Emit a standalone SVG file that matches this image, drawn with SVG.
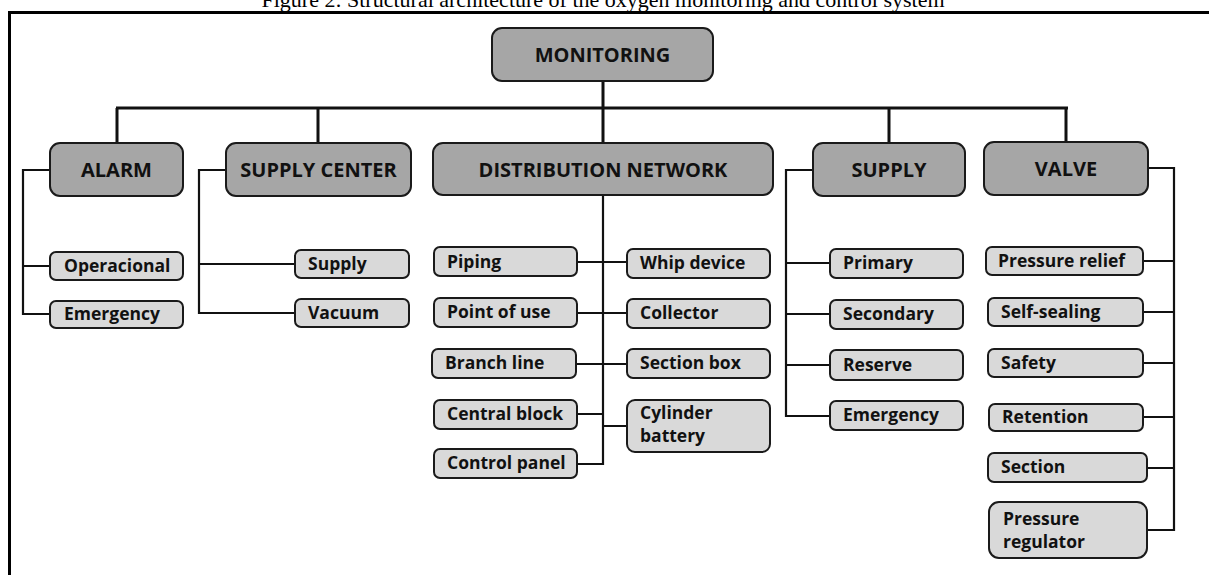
<svg xmlns="http://www.w3.org/2000/svg" width="1209" height="575" viewBox="0 0 1209 575">
<style>
.big{fill:#a6a6a6;stroke:#1a1a1a;stroke-width:2}
.sm{fill:#d9d9d9;stroke:#1a1a1a;stroke-width:2}
.bt{font-family:"Open Sans","Liberation Sans",sans-serif;font-weight:bold;font-size:20px;fill:#111;text-anchor:middle}
.st{font-family:"Open Sans","Liberation Sans",sans-serif;font-weight:bold;font-size:17.5px;fill:#111}
.c{fill:none;stroke:#111;stroke-width:2.2}
.cm{fill:none;stroke:#111;stroke-width:3}
.title{font-family:"Liberation Serif",serif;font-size:22px;fill:#000;text-anchor:middle}
</style>
<rect width="1209" height="575" fill="#fff"/>
<text class="title" x="603" y="7">Figure 2: Structural architecture of the oxygen monitoring and control system</text>
<path d="M9.5,575 V12.5 H1209" fill="none" stroke="#000" stroke-width="3"/>
<g id="connectors">
<path class="cm" d="M603,81 V108 M116,108 H1068 M117,108 V143 M318,108 V143 M603,108 V143 M889,108 V143 M1066,108 V142"/>
<path class="c" d="M50,170 H23 V314 H50 M23,266 H50"/>
<path class="c" d="M226,170 H199 V313 H295 M199,264 H295"/>
<path class="c" d="M603,195 V464 H577 M577,262 H627 M577,313 H627 M577,364 H627 M577,414 H603 M603,426 H627"/>
<path class="c" d="M813,170 H786 V416 H830 M786,263 H830 M786,314 H830 M786,365 H830"/>
<path class="c" d="M1148,168 H1174 V530 H1147 M1143,261 H1174 M1143,312 H1174 M1143,363 H1174 M1143,417 H1174 M1147,468 H1174"/>
</g>
<g id="monitoring"><rect class="big" x="492" y="28" width="221" height="53" rx="10"/><text class="bt" x="602.5" y="62">MONITORING</text></g>
<g id="alarm"><rect class="big" x="50" y="143" width="133" height="53" rx="10"/><text class="bt" x="116.5" y="177">ALARM</text></g>
<g id="supply-center"><rect class="big" x="226" y="143" width="185" height="53" rx="10"/><text class="bt" x="318.5" y="177">SUPPLY CENTER</text></g>
<g id="distribution-network"><rect class="big" x="433" y="143" width="340" height="52" rx="10"/><text class="bt" x="603" y="177">DISTRIBUTION NETWORK</text></g>
<g id="supply"><rect class="big" x="813" y="143" width="152" height="53" rx="10"/><text class="bt" x="889" y="177">SUPPLY</text></g>
<g id="valve"><rect class="big" x="984" y="142" width="164" height="53" rx="10"/><text class="bt" x="1066" y="176">VALVE</text></g>
<g id="operacional"><rect class="sm" x="50" y="252" width="133" height="28" rx="6"/><text class="st" x="64" y="272">Operacional</text></g>
<g id="alarm-emergency"><rect class="sm" x="50" y="301" width="133" height="27" rx="6"/><text class="st" x="64" y="320">Emergency</text></g>
<g id="sc-supply"><rect class="sm" x="295" y="250" width="114" height="28" rx="6"/><text class="st" x="308" y="270">Supply</text></g>
<g id="vacuum"><rect class="sm" x="295" y="299" width="114" height="28" rx="6"/><text class="st" x="308" y="319">Vacuum</text></g>
<g id="piping"><rect class="sm" x="434" y="247" width="143" height="29" rx="6"/><text class="st" x="447" y="268">Piping</text></g>
<g id="point-of-use"><rect class="sm" x="434" y="298" width="143" height="29" rx="6"/><text class="st" x="447" y="318">Point of use</text></g>
<g id="branch-line"><rect class="sm" x="432" y="349" width="144" height="29" rx="6"/><text class="st" x="445" y="369">Branch line</text></g>
<g id="central-block"><rect class="sm" x="434" y="400" width="143" height="29" rx="6"/><text class="st" x="447" y="420">Central block</text></g>
<g id="control-panel"><rect class="sm" x="434" y="449" width="143" height="29" rx="6"/><text class="st" x="447" y="469">Control panel</text></g>
<g id="whip-device"><rect class="sm" x="627" y="249" width="143" height="29" rx="6"/><text class="st" x="640" y="269">Whip device</text></g>
<g id="collector"><rect class="sm" x="627" y="299" width="143" height="29" rx="6"/><text class="st" x="640" y="319">Collector</text></g>
<g id="section-box"><rect class="sm" x="627" y="349" width="143" height="29" rx="6"/><text class="st" x="640" y="369">Section box</text></g>
<g id="cylinder-battery"><rect class="sm" x="627" y="400" width="143" height="52" rx="8"/><text class="st" x="640" y="419">Cylinder</text><text class="st" x="640" y="442">battery</text></g>
<g id="primary"><rect class="sm" x="830" y="249" width="133" height="29" rx="6"/><text class="st" x="843" y="269">Primary</text></g>
<g id="secondary"><rect class="sm" x="830" y="300" width="133" height="29" rx="6"/><text class="st" x="843" y="320">Secondary</text></g>
<g id="reserve"><rect class="sm" x="830" y="350" width="133" height="30" rx="6"/><text class="st" x="843" y="371">Reserve</text></g>
<g id="supply-emergency"><rect class="sm" x="830" y="401" width="133" height="29" rx="6"/><text class="st" x="843" y="421">Emergency</text></g>
<g id="pressure-relief"><rect class="sm" x="986" y="247" width="157" height="28" rx="6"/><text class="st" x="998" y="267">Pressure relief</text></g>
<g id="self-sealing"><rect class="sm" x="988" y="298" width="155" height="28" rx="6"/><text class="st" x="1001" y="318">Self-sealing</text></g>
<g id="safety"><rect class="sm" x="988" y="349" width="155" height="28" rx="6"/><text class="st" x="1001" y="369">Safety</text></g>
<g id="retention"><rect class="sm" x="989" y="404" width="154" height="27" rx="6"/><text class="st" x="1002" y="423">Retention</text></g>
<g id="section"><rect class="sm" x="988" y="453" width="159" height="29" rx="6"/><text class="st" x="1001" y="473">Section</text></g>
<g id="pressure-regulator"><rect class="sm" x="989" y="502" width="158" height="56" rx="10"/><text class="st" x="1003" y="525">Pressure</text><text class="st" x="1003" y="548">regulator</text></g>
</svg>
